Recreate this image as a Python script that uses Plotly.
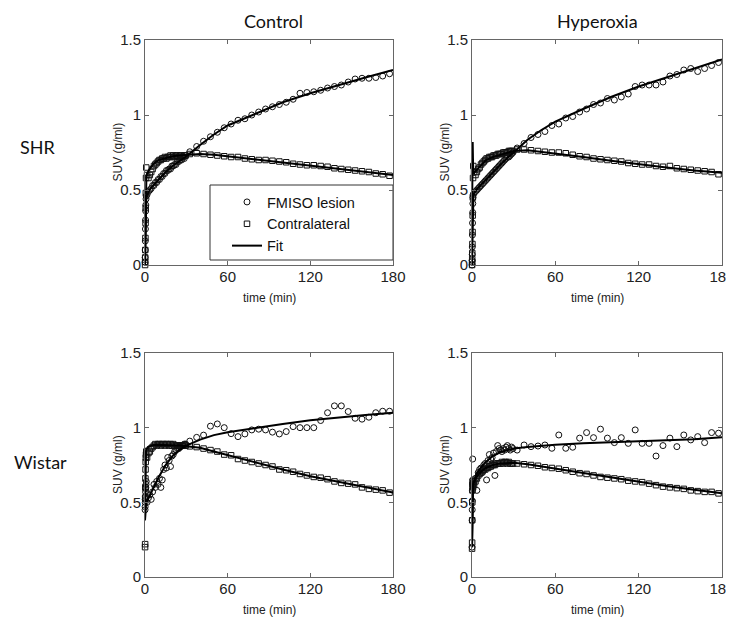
import plotly.graph_objects as go

# ---------------- data ----------------
t_data = [0.05, 0.1, 0.15, 0.2, 0.3, 0.4, 0.5, 0.6, 0.75, 0.9,
          1.5, 2.5, 3.5, 4.5, 5.5, 6.5, 7.5, 8.5, 9.5, 10.5, 11.5, 12.5, 13.5, 14.5,
          15.5, 16.5, 17.5, 18.5, 19.5, 20.5, 21.5, 22.5, 23.5, 24.5, 25.5, 26.5,
          27.5, 28.5, 29.5,
          32.5, 37.5, 42.5, 47.5, 52.5, 57.5, 62.5, 67.5, 72.5, 77.5, 82.5, 87.5,
          92.5, 97.5, 102.5, 107.5, 112.5, 117.5, 122.5, 127.5, 132.5, 137.5,
          142.5, 147.5, 152.5, 157.5, 162.5, 167.5, 172.5, 177.5]

t_fit = [0, 0.1, 0.25, 0.5, 0.75, 1, 1.5, 2, 3, 4, 5, 7, 10, 15, 20, 25, 30,
         40, 50, 60, 80, 100, 120, 140, 160, 180]

# SHR - Control
shr_ctrl_lesion = [0.02, 0.05, 0.10, 0.16, 0.24, 0.30, 0.36, 0.40, 0.44, 0.46,
                   0.47, 0.49, 0.50, 0.51, 0.53, 0.53, 0.55, 0.55, 0.57, 0.57, 0.59, 0.59,
                   0.61, 0.61, 0.63, 0.63, 0.64, 0.64, 0.66, 0.66, 0.67, 0.67, 0.69, 0.69,
                   0.70, 0.70, 0.72, 0.71, 0.73,
                   0.755, 0.79, 0.825, 0.855, 0.885, 0.915, 0.94, 0.965, 0.975, 1.0,
                   1.02, 1.04, 1.055, 1.07, 1.085, 1.105, 1.145, 1.15, 1.155, 1.165,
                   1.18, 1.19, 1.2, 1.22, 1.24, 1.245, 1.245, 1.25, 1.26, 1.275]
shr_ctrl_contra = [0.0, 0.02, 0.05, 0.10, 0.18, 0.28, 0.38, 0.48, 0.58, 0.65,
                   0.60, 0.58, 0.60, 0.62, 0.64, 0.66, 0.67, 0.68, 0.69, 0.70, 0.70, 0.71,
                   0.71, 0.72, 0.71, 0.72, 0.72, 0.73, 0.72, 0.73, 0.72, 0.73, 0.73, 0.72,
                   0.73, 0.73, 0.72, 0.73, 0.73,
                   0.74, 0.745, 0.74, 0.735, 0.73, 0.725, 0.72, 0.72, 0.71, 0.705,
                   0.70, 0.70, 0.695, 0.69, 0.685, 0.675, 0.67, 0.665, 0.665, 0.66,
                   0.655, 0.645, 0.64, 0.635, 0.63, 0.625, 0.62, 0.61, 0.605, 0.595]
shr_ctrl_fit_lesion = [0, 0.1, 0.2, 0.33, 0.41, 0.45, 0.47, 0.48, 0.50, 0.51, 0.52, 0.54,
                       0.57, 0.62, 0.66, 0.69, 0.725, 0.80, 0.87, 0.93, 1.01, 1.085,
                       1.145, 1.20, 1.25, 1.30]
shr_ctrl_fit_contra = [0, 0.12, 0.3, 0.48, 0.56, 0.59, 0.61, 0.62, 0.64, 0.65, 0.66, 0.68,
                       0.70, 0.715, 0.725, 0.73, 0.735, 0.74, 0.735, 0.725, 0.70, 0.68,
                       0.66, 0.64, 0.62, 0.60]

# SHR - Hyperoxia
shr_hyp_lesion = [0.0, 0.03, 0.07, 0.12, 0.20, 0.28, 0.35, 0.41, 0.45, 0.47,
                  0.48, 0.49, 0.50, 0.51, 0.52, 0.53, 0.54, 0.55, 0.56, 0.57, 0.58, 0.59,
                  0.60, 0.61, 0.62, 0.63, 0.64, 0.65, 0.66, 0.67, 0.68, 0.69, 0.70, 0.71,
                  0.72, 0.72, 0.73, 0.74, 0.75,
                  0.78, 0.81, 0.85, 0.87, 0.89, 0.93, 0.94, 0.98, 0.99, 1.02, 1.04,
                  1.07, 1.08, 1.11, 1.10, 1.12, 1.14, 1.19, 1.20, 1.20, 1.20, 1.22,
                  1.26, 1.27, 1.30, 1.31, 1.29, 1.31, 1.33, 1.35]
shr_hyp_contra = [0.0, 0.02, 0.04, 0.08, 0.14, 0.22, 0.33, 0.45, 0.58, 0.66,
                  0.62, 0.60, 0.62, 0.64, 0.65, 0.67, 0.68, 0.69, 0.70, 0.71, 0.71, 0.72,
                  0.72, 0.72, 0.73, 0.73, 0.73, 0.74, 0.74, 0.74, 0.74, 0.75, 0.75, 0.75,
                  0.75, 0.76, 0.76, 0.76, 0.76,
                  0.77, 0.77, 0.765, 0.76, 0.755, 0.75, 0.75, 0.745, 0.735, 0.725,
                  0.72, 0.71, 0.705, 0.70, 0.695, 0.69, 0.68, 0.675, 0.67, 0.67, 0.66,
                  0.655, 0.66, 0.645, 0.64, 0.635, 0.63, 0.625, 0.62, 0.605]
shr_hyp_fit_lesion = [0, 0.08, 0.18, 0.32, 0.42, 0.46, 0.48, 0.49, 0.50, 0.51, 0.52, 0.54,
                      0.57, 0.62, 0.665, 0.71, 0.75, 0.835, 0.90, 0.956, 1.04, 1.12,
                      1.19, 1.25, 1.31, 1.37]
shr_hyp_fit_contra = [0.28, 0.45, 0.65, 0.82, 0.68, 0.62, 0.61, 0.62, 0.63, 0.645, 0.655,
                      0.675, 0.70, 0.72, 0.735, 0.75, 0.76, 0.765, 0.755, 0.745, 0.72,
                      0.695, 0.67, 0.65, 0.63, 0.615]

# Wistar - Control
wis_ctrl_lesion = [0.45, 0.47, 0.50, 0.52, 0.54, 0.57, 0.59, 0.60, 0.62, 0.64,
                   0.50, 0.53, 0.55, 0.52, 0.57, 0.62, 0.60, 0.64, 0.62, 0.66, 0.60, 0.65,
                   0.72, 0.75, 0.73, 0.80, 0.78, 0.74, 0.81, 0.82, 0.84, 0.85, 0.86, 0.86,
                   0.87, 0.88, 0.88, 0.89, 0.89,
                   0.91, 0.935, 0.95, 1.01, 1.025, 1.0, 0.96, 0.94, 0.958, 0.985, 0.99,
                   0.985, 0.97, 0.958, 0.974, 1.007, 1.0, 1.0, 1.0, 1.048, 1.10, 1.146,
                   1.146, 1.108, 1.063, 1.057, 1.07, 1.10, 1.11, 1.11]
wis_ctrl_contra = [0.20, 0.22, 0.53, 0.60, 0.66, 0.72, 0.77, 0.80, 0.82, 0.84,
                   0.80, 0.83, 0.84, 0.86, 0.87, 0.88, 0.89, 0.88, 0.89, 0.89, 0.88, 0.89,
                   0.89, 0.88, 0.89, 0.89, 0.88, 0.89, 0.88, 0.89, 0.88, 0.88, 0.88, 0.88,
                   0.88, 0.88, 0.88, 0.88, 0.88,
                   0.875, 0.87, 0.86, 0.85, 0.84, 0.82, 0.815, 0.79, 0.78, 0.77, 0.76,
                   0.75, 0.74, 0.72, 0.715, 0.705, 0.69, 0.68, 0.67, 0.665, 0.655, 0.64,
                   0.63, 0.625, 0.62, 0.60, 0.59, 0.585, 0.58, 0.565]
wis_ctrl_fit_lesion = [0.38, 0.42, 0.45, 0.47, 0.49, 0.50, 0.51, 0.52, 0.54, 0.56, 0.58,
                       0.62, 0.67, 0.75, 0.81, 0.85, 0.88, 0.92, 0.95, 0.97, 1.0, 1.025,
                       1.05, 1.07, 1.085, 1.10]
wis_ctrl_fit_contra = [0.38, 0.55, 0.70, 0.80, 0.84, 0.86, 0.86, 0.87, 0.875, 0.88, 0.88,
                       0.885, 0.885, 0.885, 0.885, 0.88, 0.875, 0.865, 0.84, 0.815, 0.77,
                       0.72, 0.675, 0.64, 0.605, 0.565]

# Wistar - Hyperoxia
wis_hyp_lesion = [0.20, 0.38, 0.45, 0.51, 0.58, 0.62, 0.79, 0.65, 0.60, 0.62,
                  0.64, 0.66, 0.58, 0.70, 0.72, 0.73, 0.70, 0.75, 0.76, 0.65, 0.78, 0.82,
                  0.79, 0.80, 0.83, 0.68, 0.84, 0.88, 0.86, 0.85, 0.84, 0.86, 0.85, 0.87,
                  0.88, 0.86, 0.85, 0.87, 0.86,
                  0.85, 0.884, 0.873, 0.877, 0.884, 0.862, 0.951, 0.862, 0.869, 0.93,
                  0.967, 0.933, 0.99, 0.93, 0.90, 0.933, 0.895, 0.985, 0.895, 0.895,
                  0.81, 0.88, 0.93, 0.873, 0.951, 0.918, 0.94, 0.90, 0.967, 0.963]
wis_hyp_contra = [0.19, 0.23, 0.38, 0.50, 0.58, 0.62, 0.64, 0.62, 0.60, 0.63,
                  0.62, 0.64, 0.66, 0.68, 0.69, 0.70, 0.71, 0.72, 0.72, 0.73, 0.73, 0.74,
                  0.74, 0.75, 0.75, 0.75, 0.76, 0.76, 0.76, 0.76, 0.77, 0.76, 0.77, 0.77,
                  0.76, 0.77, 0.76, 0.76, 0.76,
                  0.76, 0.755, 0.75, 0.745, 0.735, 0.73, 0.725, 0.715, 0.705, 0.695,
                  0.69, 0.68, 0.67, 0.665, 0.66, 0.655, 0.645, 0.64, 0.635, 0.625,
                  0.615, 0.605, 0.60, 0.595, 0.59, 0.58, 0.575, 0.57, 0.57, 0.56]
wis_hyp_fit_lesion = [0.2, 0.35, 0.48, 0.56, 0.60, 0.62, 0.64, 0.66, 0.68, 0.70, 0.715,
                      0.74, 0.77, 0.81, 0.835, 0.85, 0.86, 0.87, 0.878, 0.885, 0.895,
                      0.903, 0.91, 0.915, 0.922, 0.935]
wis_hyp_fit_contra = [0.2, 0.38, 0.52, 0.60, 0.62, 0.63, 0.64, 0.65, 0.665, 0.68, 0.69,
                      0.71, 0.73, 0.75, 0.76, 0.765, 0.765, 0.755, 0.74, 0.725, 0.695,
                      0.665, 0.635, 0.61, 0.585, 0.56]

col_titles = ["Control", "Hyperoxia"]
row_titles = ["SHR", "Wistar"]
x_title = "time (min)"
y_title = "SUV (g/ml)"
x_ticks = [0, 60, 120, 180]
y_ticks = [0, 0.5, 1, 1.5]
y_ticktext = ["0", "0.5", "1", "1.5"]
legend_names = ["FMISO lesion", "Contralateral", "Fit"]

panels = [
    (shr_ctrl_lesion, shr_ctrl_contra, shr_ctrl_fit_lesion, shr_ctrl_fit_contra),
    (shr_hyp_lesion, shr_hyp_contra, shr_hyp_fit_lesion, shr_hyp_fit_contra),
    (wis_ctrl_lesion, wis_ctrl_contra, wis_ctrl_fit_lesion, wis_ctrl_fit_contra),
    (wis_hyp_lesion, wis_hyp_contra, wis_hyp_fit_lesion, wis_hyp_fit_contra),
]

# ---------------- layout geometry (pixels; page body adds 8px offset) ----------------
W, H = 734, 620
OFF = 8
def px(x):
    return (x - OFF) / W
def py(y):
    return 1 - (y - OFF) / H

x_pix = [[145, 393], [472, 722]]
y_pix = [[40, 265], [353, 577]]
x_dom = [[px(a), px(b)] for a, b in x_pix]
y_dom = [[py(b), py(a)] for a, b in y_pix]

base_family = "Liberation Sans, Arial, sans-serif"
tick_font = dict(family=base_family, size=15, color="#222")
title_font = dict(family=base_family, size=12, color="#222")
axis_col = "#666"

fig = go.Figure()
layout = dict(width=W, height=H, margin=dict(l=0, r=0, t=0, b=0, autoexpand=False),
              template="none",
              paper_bgcolor="white", plot_bgcolor="white", showlegend=True)

ann = []
for i, (les, con, flin, fcon) in enumerate(panels):
    r, c = divmod(i, 2)
    n = i + 1
    xa = "x" if n == 1 else f"x{n}"
    ya = "y" if n == 1 else f"y{n}"
    show = (i == 0)
    fig.add_trace(go.Scatter(x=t_data, y=les, mode="markers", name=legend_names[0],
                             xaxis=xa, yaxis=ya, showlegend=show, cliponaxis=False,
                             marker=dict(symbol="circle-open", size=6, color="#111",
                                         line=dict(width=1, color="#111"))))
    fig.add_trace(go.Scatter(x=t_data, y=con, mode="markers", name=legend_names[1],
                             xaxis=xa, yaxis=ya, showlegend=show, cliponaxis=False,
                             marker=dict(symbol="square-open", size=5.5, color="#111",
                                         line=dict(width=1, color="#111"))))
    fig.add_trace(go.Scatter(x=t_fit, y=flin, mode="lines", name=legend_names[2],
                             xaxis=xa, yaxis=ya, showlegend=show, cliponaxis=False,
                             line=dict(color="black", width=2)))
    fig.add_trace(go.Scatter(x=t_fit, y=fcon, mode="lines", name=legend_names[2],
                             xaxis=xa, yaxis=ya, showlegend=False, cliponaxis=False,
                             line=dict(color="black", width=2)))

    xkey = "xaxis" if n == 1 else f"xaxis{n}"
    ykey = "yaxis" if n == 1 else f"yaxis{n}"
    layout[xkey] = dict(domain=x_dom[c], anchor=ya, range=[0, 180], tickvals=x_ticks,
                        ticks="inside", ticklen=4, tickcolor=axis_col, automargin=False,
                        showline=True, mirror="allticks", linecolor=axis_col, linewidth=1,
                        showgrid=False, zeroline=False, tickfont=tick_font,
                        ticklabelstandoff=-2)
    layout[ykey] = dict(domain=y_dom[r], anchor=xa, range=[0, 1.5], tickvals=y_ticks,
                        ticktext=y_ticktext, automargin=False,
                        ticks="inside", ticklen=4, tickcolor=axis_col,
                        showline=True, mirror="allticks", linecolor=axis_col, linewidth=1,
                        showgrid=False, zeroline=False, tickfont=tick_font)
    # axis titles as annotations (MATLAB-like placement)
    xc = (x_pix[c][0] + x_pix[c][1]) / 2
    yc = (y_pix[r][0] + y_pix[r][1]) / 2
    ann.append(dict(text=x_title, x=px(xc), y=py(y_pix[r][1] + 33), xref="paper",
                    yref="paper", showarrow=False, font=title_font,
                    xanchor="center", yanchor="middle"))
    ann.append(dict(text=y_title, x=px(x_pix[c][0] - 27), y=py(yc), xref="paper",
                    yref="paper", showarrow=False, font=title_font, textangle=-90,
                    xanchor="center", yanchor="middle"))

layout["legend"] = dict(x=px(227), y=py(186), xanchor="left", yanchor="top",
                        xref="paper", yref="paper", bgcolor="rgba(0,0,0,0)",
                        borderwidth=0, tracegroupgap=0,
                        font=dict(family=base_family, size=14.5, color="#111"))
layout["shapes"] = [dict(type="rect", xref="paper", yref="paper",
                         x0=px(210), x1=px(393), y0=py(260), y1=py(185),
                         line=dict(color="#333", width=1), fillcolor="white",
                         layer="below")]

head_font = dict(family="Lato, Open Sans, sans-serif", size=18, color="#111")
for c, txt in enumerate(col_titles):
    ann.append(dict(text=txt, x=px([273, 597][c]), y=1.0, xref="paper",
                    yref="paper", showarrow=False, font=head_font,
                    xanchor="center", yanchor="top"))
for r, txt in enumerate(row_titles):
    ann.append(dict(text=txt, x=px([38, 40][r]), y=py([147, 462][r]),
                    xref="paper", yref="paper", showarrow=False, font=head_font,
                    xanchor="center", yanchor="middle"))
layout["annotations"] = ann

fig.update_layout(**layout)
fig.write_html("out.html")
